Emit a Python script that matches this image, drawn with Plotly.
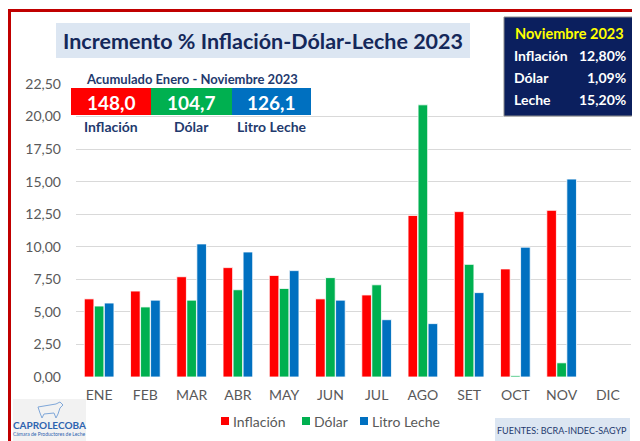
import plotly.graph_objects as go

months = ["ENE", "FEB", "MAR", "ABR", "MAY", "JUN", "JUL", "AGO", "SET", "OCT", "NOV", "DIC"]
inflacion = [6.0, 6.6, 7.7, 8.4, 7.8, 6.0, 6.3, 12.4, 12.7, 8.3, 12.8, None]
dolar = [5.45, 5.38, 5.9, 6.7, 6.8, 7.63, 7.08, 20.9, 8.65, 0.1, 1.09, None]
leche = [5.68, 5.9, 10.22, 9.6, 8.17, 5.9, 4.4, 4.1, 6.48, 9.97, 15.2, None]

series_names = ["Inflación", "Dólar", "Litro Leche"]
series_colors = ["#FF0000", "#00B050", "#0070C0"]

acum_values = ["148,0", "104,7", "126,1"]
nov_labels = ["Inflación", "Dólar", "Leche"]
nov_values = ["12,80%", "1,09%", "15,20%"]

TITLE = "Incremento % Inflación-Dólar-Leche 2023"
FONT = "Lato"
NAVY = "#1F3A6E"

# page geometry (the page body has an 8px margin, compensate)
OFF = 8
Wd, Ht = 640, 441
L, R, T, B = 76, 631, 84, 377          # plot area in page pixels
PW, PH = R - L, B - T


def px(x):
    return (x - L) / PW


def py(y):
    return (B - y) / PH


fig = go.Figure()
for name, vals, col in zip(series_names, [inflacion, dolar, leche], series_colors):
    fig.add_trace(go.Bar(
        x=months, y=vals, name=name, showlegend=False,
        marker=dict(color=col, line=dict(color="rgba(255,255,255,0.8)", width=1)),
    ))

shapes = []
annotations = []

# red outer border (cropped at right/bottom)
shapes.append(dict(type="rect", xref="paper", yref="paper",
                   x0=px(9.5), x1=px(700), y0=py(10.5), y1=py(520),
                   line=dict(color="#C00000", width=3), fillcolor="rgba(0,0,0,0)", layer="above"))

# title box
shapes.append(dict(type="rect", xref="paper", yref="paper",
                   x0=px(56), x1=px(470), y0=py(23), y1=py(58),
                   line=dict(width=0), fillcolor="#DCE6F2", layer="above"))
annotations.append(dict(text="<b>" + TITLE + "</b>", xref="paper", yref="paper",
                        x=px(263), y=py(41), xanchor="center", yanchor="middle", showarrow=False,
                        font=dict(family=FONT, size=21.5, color="#14285A")))

# navy info box
shapes.append(dict(type="rect", xref="paper", yref="paper",
                   x0=px(504), x1=px(660), y0=py(17), y1=py(116),
                   line=dict(color="#8C8C8C", width=1), fillcolor="#0B1F5E", layer="above"))
annotations.append(dict(text="<b>Noviembre 2023</b>", xref="paper", yref="paper",
                        x=px(513), y=py(34), xanchor="left", yanchor="middle", showarrow=False,
                        font=dict(family=FONT, size=14.5, color="#FFFF00")))
for i, (lab, val) in enumerate(zip(nov_labels, nov_values)):
    yy = 56 + i * 21.5
    annotations.append(dict(text="<b>" + lab + "</b>", xref="paper", yref="paper",
                            x=px(512), y=py(yy), xanchor="left", yanchor="middle", showarrow=False,
                            font=dict(family=FONT, size=14, color="white")))
    annotations.append(dict(text="<b>" + val + "</b>", xref="paper", yref="paper",
                            x=px(628), y=py(yy), xanchor="right", yanchor="middle", showarrow=False,
                            font=dict(family=FONT, size=14, color="white")))

# accumulated box
annotations.append(dict(text="<b>Acumulado Enero - Noviembre 2023</b>", xref="paper", yref="paper",
                        x=px(192), y=py(79), xanchor="center", yanchor="middle", showarrow=False,
                        font=dict(family=FONT, size=13, color=NAVY)))
cells = [(71, 151), (151, 232), (232, 311)]
for (a, b), col, val, lab in zip(cells, series_colors, acum_values, series_names):
    shapes.append(dict(type="rect", xref="paper", yref="paper",
                       x0=px(a), x1=px(b), y0=py(88), y1=py(115),
                       line=dict(width=0), fillcolor=col, layer="above"))
    annotations.append(dict(text="<b>" + val + "</b>", xref="paper", yref="paper",
                            x=px((a + b) / 2), y=py(102), xanchor="center", yanchor="middle", showarrow=False,
                            font=dict(family=FONT, size=19, color="white")))
    annotations.append(dict(text="<b>" + lab + "</b>", xref="paper", yref="paper",
                            x=px((a + b) / 2), y=py(127), xanchor="center", yanchor="middle", showarrow=False,
                            font=dict(family=FONT, size=14, color=NAVY)))

# legend (squares + labels)
leg_x = [221, 302, 360]
for x0, col, lab in zip(leg_x, series_colors, series_names):
    shapes.append(dict(type="rect", xref="paper", yref="paper",
                       x0=px(x0), x1=px(x0 + 8), y0=py(417), y1=py(425),
                       line=dict(width=0), fillcolor=col, layer="above"))
    annotations.append(dict(text=lab, xref="paper", yref="paper",
                            x=px(x0 + 10), y=py(421), xanchor="left", yanchor="middle", showarrow=False,
                            font=dict(family=FONT, size=14, color="#595959")))

# logo block
shapes.append(dict(type="rect", xref="paper", yref="paper",
                   x0=px(13), x1=px(86), y0=py(399), y1=py(460),
                   line=dict(width=0), fillcolor="#F2F2F2", layer="above"))
cow = [(38, 407), (56, 404), (60, 402), (63, 405), (60, 408), (58, 414), (56, 418), (54, 413),
       (44, 414), (42, 418), (40, 413), (38, 407)]
path = "M " + " L ".join(f"{px(a):.5f},{py(b):.5f}" for a, b in cow) + " Z"
shapes.append(dict(type="path", xref="paper", yref="paper", path=path,
                   line=dict(color="#7FA7D9", width=1), fillcolor="rgba(0,0,0,0)", layer="above"))
annotations.append(dict(text="<b>CAPROLECOBA</b>", xref="paper", yref="paper",
                        x=px(49), y=py(425), xanchor="center", yanchor="middle", showarrow=False,
                        font=dict(family=FONT, size=10, color="#2E64B0")))
annotations.append(dict(text="Cámara de Productores de Leche", xref="paper", yref="paper",
                        x=px(49), y=py(434), xanchor="center", yanchor="middle", showarrow=False,
                        font=dict(family=FONT, size=5, color="#2E64B0")))

# sources box
shapes.append(dict(type="rect", xref="paper", yref="paper",
                   x0=px(495), x1=px(630), y0=py(418), y1=py(441),
                   line=dict(width=0), fillcolor="#DCE6F2", layer="above"))
annotations.append(dict(text="FUENTES: BCRA-INDEC-SAGYP", xref="paper", yref="paper",
                        x=px(562), y=py(430), xanchor="center", yanchor="middle", showarrow=False,
                        font=dict(family=FONT, size=9, color="#1F3A6E")))

fig.update_layout(
    width=Wd, height=Ht,
    margin=dict(l=L - OFF, r=Wd - R + OFF, t=T - OFF, b=Ht - B + OFF, pad=0, autoexpand=False),
    paper_bgcolor="white", plot_bgcolor="white",
    separators=",.",
    barmode="group", bargap=0.35, bargroupgap=0.04,
    font=dict(family=FONT, size=14, color="#595959"),
    showlegend=False,
    shapes=shapes, annotations=annotations,
)
fig.update_xaxes(showgrid=False, showline=False, ticks="", ticklabelstandoff=8, automargin=False,
                 tickfont=dict(size=14, color="#595959"))
fig.update_yaxes(range=[0, 22.5], dtick=2.5, tickformat=".2f", showgrid=True, automargin=False,
                 gridcolor="#D9D9D9", gridwidth=1, zeroline=False, showline=False,
                 ticks="", ticklabelstandoff=14, tickfont=dict(size=14, color="#595959"))

fig.write_html("out.html")
